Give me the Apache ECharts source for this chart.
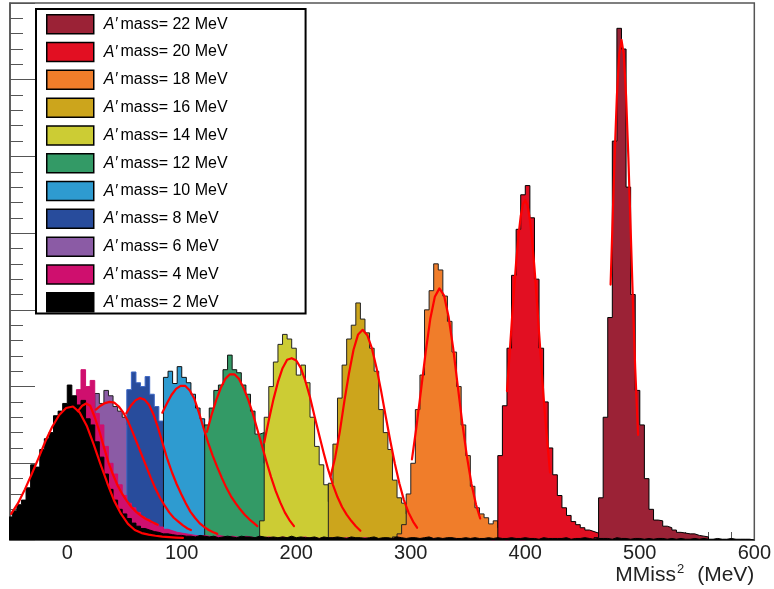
<!DOCTYPE html>
<html>
<head>
<meta charset="utf-8">
<script src="https://cdn.jsdelivr.net/npm/echarts@6/dist/echarts.min.js"></script>
<style>html,body{margin:0;padding:0;background:#fff;}#c{width:774px;height:589px;}</style>
</head>
<body>
<div id="c"></div>
<script>
// ---------- data ----------
const BIN = 4;                       // histogram bin width (MeV)
const xTitleMain = 'MMiss', xTitleSup = '2', xTitleUnit = '(MeV)';
const masses = ['22', '20', '18', '16', '14', '12', '10', '8', '6', '4', '2'];   // legend order

// histogram contents: first bin lower edge + counts per bin
const h2Start = -52;
const h2 = [30,38,46,52,68,98,95,118,132,140,162,168,178,202,188,176,182,158,150,128,108,86,66,52,40,34,28,22,18,15,13,11,10,8,8,7,6,6,5,
  5,4,6,5,4,5,3,4,5,4,3,5,4,4,3,5,4,3,4,3,
  4,3,5,3,4,3,3,4,2,4,3,3,4,3,2,4,3,3,2,3,
  4,2,3,3,2,4,3,2,3,3,2,3,4,2,3,2,3,3,2,2,
  3,2,3,2,2,3,2,3,2,2,3,2,2,3,2,2,1,3,2,2,
  2,2,3,1,2,2,3,2,1,2,2,2,1,3,2,2,1,2,2,1,
  2,1,2,2,1,2,1,2,1,1,2,1,2,1,1,2,1,1,2,1,
  1,1,1,0];
const h4Start = 4;
const h4 = [150,196,222,200,208,165,150,122,100,86,72,58,48,42,36,30,27,22,20,17,14,12,10,9,8,
  7,6,5,6,5,4,6,5,4,5,4,3,5,4,3,4,3,4,3,2,
  4,3,3,2,3,4,2,3,2,3,2,3,2,2,3,2,1,2,3,2,
  2,1,2,2,1,3,2,1,2,2,1,2,1,2,1,1,2,1,2,1,
  1,1,2,1,1,1,0,1,1,0,1,1,0,0];
const h6Start = 24;
const h6 = [191,178,195,188,174,168,160,150,138,122,106,90,76,64,52,42,35,28,22,18,14,11,9,7,6,5,4,3];
const h8Start = 52;
const h8 = [196,219,205,200,213,190,174,155,135,118,100,82,66,52,40,30,24,18,14,11,9,7,6,5,4,3];
const h10Start = 84;
const h10 = [212,220,204,226,212,205,190,172,158,140,122,100,82,66,52,42,34,27,22,17,14,11,9,7,6,5,4];
const h12Start = 120;
const h12 = [150,172,195,202,222,241,222,218,202,190,168,138,140,100,80,65,52,40,32,26,21,17,14,11,9,7,6,5];
const h14Start = 168;
const h14 = [25,160,200,232,255,268,262,250,215,228,205,160,122,98,72,50,38,34,30,26,22,20,18,16,14,12,10,8,7,6,5,4];
const h16Start = 228;
const h16 = [74,125,185,228,262,280,309,288,270,250,220,170,140,118,78,55,48,34,30,27,24,20,18,15,13,11,9,8,7,6,5,4];
const h18Start = 284;
const h18 = [4,8,20,60,100,170,215,300,325,360,352,318,285,245,200,150,110,70,42,34,29,21,25,16,14,12,10,8,7,6,5,4];
const h20Start = 376;
const h20 = [110,175,250,345,405,450,462,420,340,250,180,120,85,58,42,32,24,20,16,13,11,9,7,5,4];
const h22Start = 460;
const h22 = [3,55,160,290,520,667,640,460,320,195,150,80,40,26,25,18,16,13,10,9,8,8,6,5,4];

// fitted curves (x, y)
const fit2X = [-49,-43,-37,-31,-25,-19,-13,-7,-1,5,11,17,23,29,35,41,47,53,59,65,71,77,83,89,95,101];
const fit2Y = [34,48,66,86,107,129,148,163,172,174,166,149,125,99,74,51,34,21,13,9,7,5.5,4.5,3.8,3.2,2.7];
const fit4X = [9.3,13,16.5,20,24,28,32,36,40,44,48,52,56,60,64,68,72,76,79];
const fit4Y = [168,175,178,175,160,142,121,101,85,71,60,51,43,37,32,28,25,22,20];
const fit6X = [25,29,33,37,41,45,49,53,57,61,65,69,73,77,81,85,89,93,97,101,105,108];
const fit6Y = [170,175,178.5,180,179,174,166,155,141,126,111,96,81,67,55,45,36,29,24,19,15,13];
const fit8X = [51.5,55.5,59.5,63.5,67.5,71.5,75.5,79.5,83.5,87.5,91.5,95.5,99.5,103.5,107.5,111.5,115.5,119.5,123.5,127.5,131];
const fit8Y = [165,175,182,185,183,176,163,145,125,105,88,73,60,48,37,29,22,17,13,10,8];
const fit10X = [83,87,91,95,99,103,107,111,115,119,123,127,131,135,139,143,147,151,155,159,163,166];
const fit10Y = [166,178,189,197,201,201,195,184,166,146,127,110,95,81,68,57,48,40,33,27,22,18];
const fit12X = [122,126,130,134,138,142,146,150,154,158,162,166,170,174,178,182,186,190,194,198];
const fit12Y = [141,163,182,198,210,216,216,210,198,183,165,144,123,102,82,64,49,36,26,18];
const fit14X = [172,176,180,184,188,192,196,200,204,208,212,216,220,224,228,232,236,240,244,248,252,256];
const fit14Y = [127,156,183,206,224,235,237,234,224,207,186,161,137,113,91,72,56,43,33,25,18,12];
const fit16X = [230,234,238,242,246,250,254,258,262,266,270,274,278,282,286,290,294,298,302,305.5];
const fit16Y = [83,108,141,181,217,248,268,274,267,250,225,195,162,130,100,74,52,36,24,16];
const fit18X = [301,305,309,313,317,321,325,329,333,337,341,345,349,353,357,360.6];
const fit18Y = [105,148,196,245,288,317,328,319,291,250,201,152,109,73,46,28];
const fit20X = [384,386,388,390,392,394,396,398,400,402,404,406,408,410,412,414,416,418,420,421.6];
const fit20Y = [194,236,280,323,362,396,422,438,443,436,418,390,355,314,271,228,186,148,115,88];
const fit22X = [474.5,476,478,480,482,484,486,488,490,492,494,496,498.5];
const fit22Y = [333,405,499,579,633,652,633,579,499,405,310,223,137];

// ---------- styles ----------
const fillColor = {'22':'#9b2236','20':'#e20f22','18':'#f07d2a','16':'#cca51c','14':'#cccc34','12':'#339a66',
                   '10':'#2e9bd0','8':'#284c9c','6':'#8b5ba5','4':'#cf0f6e','2':'#000000'};
const edgeColor = {'22':'#000','20':'#000','18':'#222','16':'#222','14':'#222','12':'#111','10':'#111',
                   '8':'#3c66c4','6':'#222','4':'#cf0f6e','2':'#000'};
const FONT = 'Liberation Sans, Arial, Helvetica, sans-serif';

const hists = {
  '2':[h2Start,h2],'4':[h4Start,h4],'6':[h6Start,h6],'8':[h8Start,h8],'10':[h10Start,h10],'12':[h12Start,h12],
  '14':[h14Start,h14],'16':[h16Start,h16],'18':[h18Start,h18],'20':[h20Start,h20],'22':[h22Start,h22]
};
const fits = {
  '2':[fit2X,fit2Y],'4':[fit4X,fit4Y],'6':[fit6X,fit6Y],'8':[fit8X,fit8Y],'10':[fit10X,fit10Y],'12':[fit12X,fit12Y],
  '14':[fit14X,fit14Y],'16':[fit16X,fit16Y],'18':[fit18X,fit18Y],'20':[fit20X,fit20Y],'22':[fit22X,fit22Y]
};
const seriesName = m => 'A′mass= ' + m + ' MeV';

function stepData(start, vals) {
  const d = [[start, 0]];
  vals.forEach((v, i) => d.push([start + i * BIN, v]));
  d.push([start + vals.length * BIN, 0]);
  return d;
}

// drawing order (last on top); each histogram gets its own z so fills cover earlier outlines
const drawOrder = ['6','8','10','12','14','16','18','20','22','4','2'];
const series = [];
drawOrder.forEach((m, k) => {
  const [s, v] = hists[m];
  series.push({
    name: seriesName(m), type: 'line', step: 'end', symbol: 'none', silent: true, z: 2 + k,
    data: stepData(s, v),
    lineStyle: {color: edgeColor[m], width: 1},
    itemStyle: {color: fillColor[m]},
    areaStyle: {color: fillColor[m], opacity: 1}
  });
});
drawOrder.forEach(m => {
  const [xs, ys] = fits[m];
  series.push({
    name: 'fit' + m, type: 'line', smooth: false, symbol: 'none', silent: true, z: 30,
    data: xs.map((x, i) => [x, ys[i]]),
    lineStyle: {color: '#ff0000', width: 2.2, join: 'round', cap: 'round'}
  });
});

const axisCol = '#555';
const option = {
  animation: false,
  backgroundColor: '#fff',
  grid: {left: 10, right: 19, top: 3, bottom: 49, show: true, borderColor: axisCol, borderWidth: 1.5, backgroundColor: 'transparent'},
  legend: {
    z: 50,
    orient: 'vertical', left: 36, top: 9,
    itemWidth: 47, itemHeight: 19, itemGap: 7.3,
    padding: [5, 78, 1, 10],
    borderColor: '#000', borderWidth: 2, backgroundColor: '#fff',
    icon: 'rect',
    data: masses.map(m => ({name: seriesName(m), itemStyle: {color: fillColor[m], borderColor: '#000', borderWidth: 1.5}})),
    formatter: n => '{i|A′}{t|' + n.slice(2) + '}',
    textStyle: {
      fontFamily: FONT, fontSize: 16, color: '#000', lineHeight: 19,
      rich: {
        i: {fontFamily: FONT, fontSize: 16, fontStyle: 'italic', color: '#000', padding: [0, 3, 0, 5]},
        t: {fontFamily: FONT, fontSize: 16, color: '#000'}
      }
    },
    selectedMode: false
  },
  xAxis: {
    type: 'value', min: -50, max: 600,
    axisLine: {show: true, onZero: false, lineStyle: {color: axisCol, width: 1.5}},
    axisTick: {show: true, inside: true, length: 16, lineStyle: {color: axisCol}},
    minorTick: {show: true, splitNumber: 5, length: 8, lineStyle: {color: axisCol}},
    splitLine: {show: false},
    axisLabel: {fontFamily: FONT, fontSize: 20, color: '#222', margin: 3, showMinLabel: false},
    name: '{m|' + xTitleMain + '}{s|' + xTitleSup + '}{m|' + xTitleUnit + '}', nameLocation: 'end', nameGap: 0,
    nameTextStyle: {fontFamily: FONT, fontSize: 21, color: '#222', align: 'right', verticalAlign: 'top', padding: [23, 0, 0, 0],
      rich: {
        m: {fontFamily: FONT, fontSize: 21, color: '#222', lineHeight: 23, verticalAlign: 'bottom'},
        s: {fontFamily: FONT, fontSize: 13, color: '#222', lineHeight: 13, verticalAlign: 'top', padding: [0, 13, 0, 1]}
      }}
  },
  yAxis: {
    type: 'value', min: 0, max: 700, interval: 100,
    axisLine: {show: true, onZero: false, lineStyle: {color: axisCol, width: 1.5}},
    axisTick: {show: true, inside: true, length: 25, lineStyle: {color: axisCol}},
    minorTick: {show: true, splitNumber: 5, length: 13, lineStyle: {color: axisCol}},
    splitLine: {show: false},
    axisLabel: {show: false}
  },
  series: series
};
echarts.init(document.getElementById('c'), null, {renderer: 'canvas'}).setOption(option);
</script>
</body>
</html>
